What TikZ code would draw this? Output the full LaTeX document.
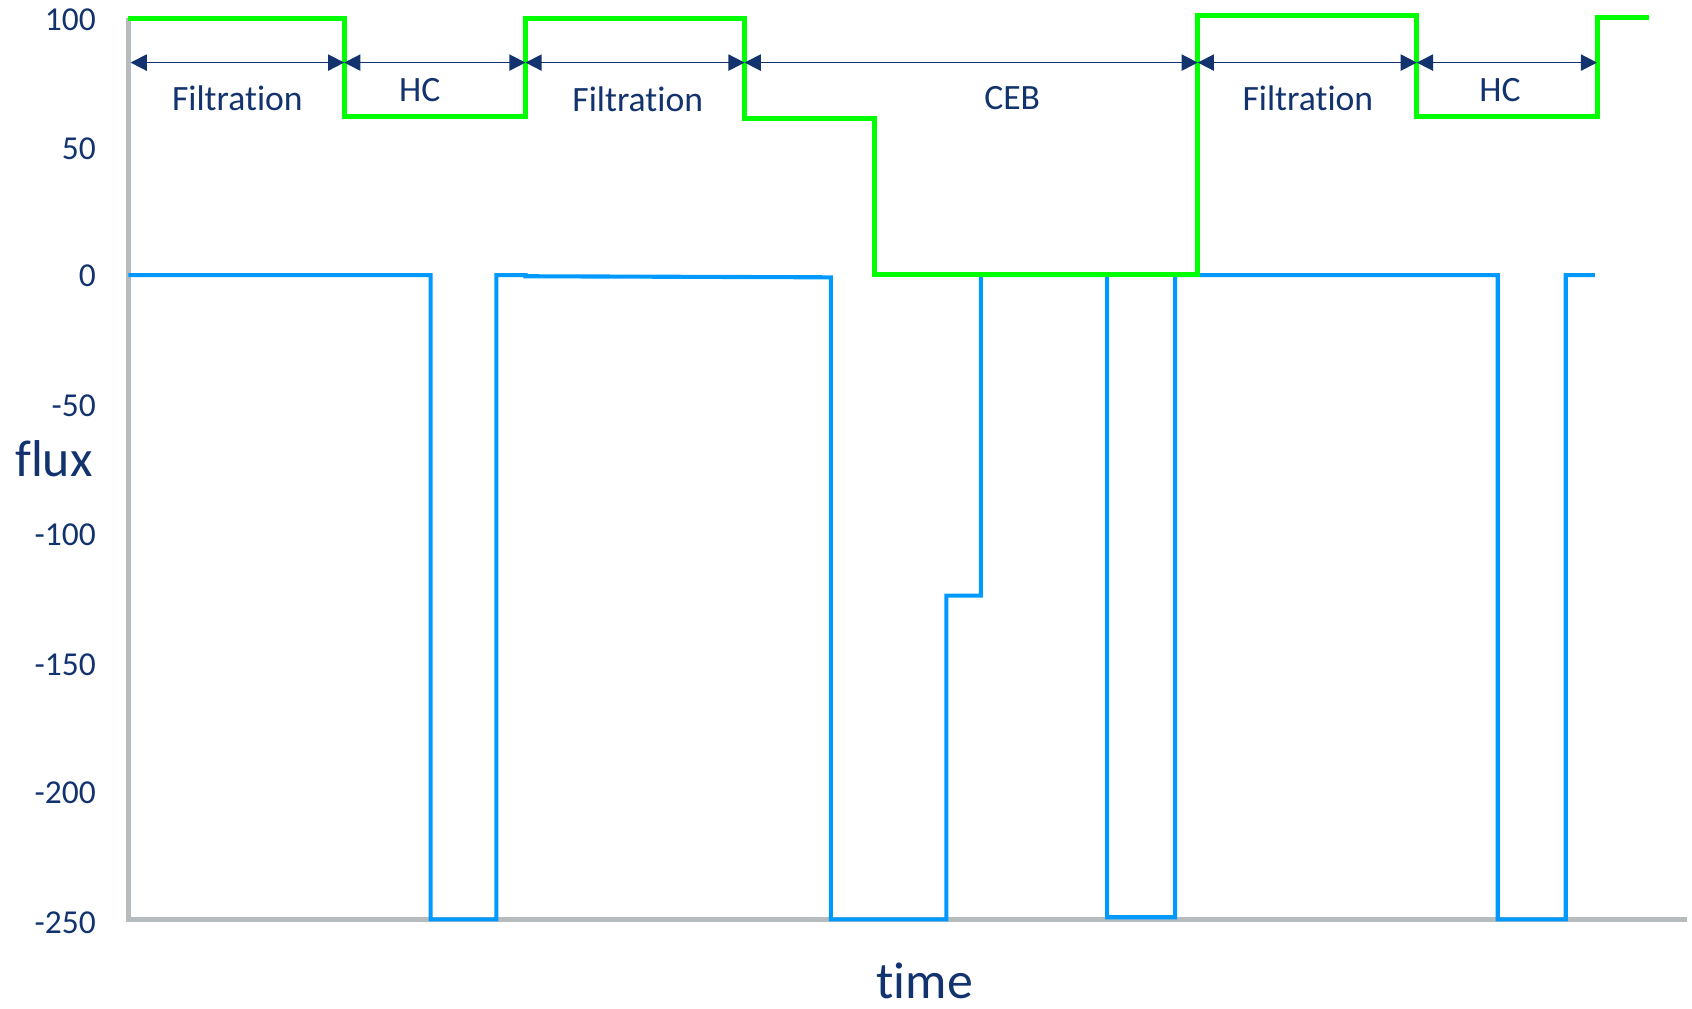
\documentclass[tikz,border=0pt]{standalone}
\usepackage{fontspec}
\setmainfont{Carlito}[Ligatures=NoCommon,RawFeature={-liga;-clig;-dlig}]
\usetikzlibrary{arrows.meta}
\definecolor{navytext}{HTML}{12336E}
\definecolor{stepgreen}{HTML}{00FF00}
\definecolor{fluxblue}{HTML}{0099FF}
\definecolor{axisgray}{HTML}{B6BBBE}
\newcommand{\filtword}{Filtrat\kern0pt ion}
\begin{document}
\begin{tikzpicture}[x=1pt,y=-1pt,
  axisline/.style={draw=axisgray, line width=4pt, line join=miter},
  bluetrace/.style={draw=fluxblue, line width=3.8pt, line join=miter},
  greentrace/.style={draw=stepgreen, line width=4.6pt, line join=miter},
  phase/.style={draw=navytext, line width=1.6pt, {Triangle[length=15pt,width=15pt]}-{Triangle[length=15pt,width=15pt]}},
  phaselbl/.style={text=navytext, inner sep=0pt, font=\fontsize{33}{40}\selectfont},
  ticklbl/.style={text=navytext, inner sep=0pt, anchor=east, font=\fontsize{31}{38}\selectfont},
  axislbl/.style={text=navytext, inner sep=0pt, font=\fontsize{48}{56}\selectfont}]
\useasboundingbox (0,0) rectangle (1568,935);
% axes
\draw[axisline] (119,17) -- (119,852) -- (1563,852);
% tick labels
\node[ticklbl] (t100) at (89,18) {100};
\node[ticklbl] (t50) at (89,138) {50};
\node[ticklbl] (t0) at (89,256) {0};
\node[ticklbl] (tm50) at (89,376) {-50};
\node[ticklbl] (tm100) at (89,496) {-100};
\node[ticklbl] (tm150) at (89,616) {-150};
\node[ticklbl] (tm200) at (89,735) {-200};
\node[ticklbl] (tm250) at (89,855) {-250};
\node[axislbl] (flux) at (50,425) {flux};
\node[axislbl] (time) at (857,909) {time};
% blue flux trace
\draw[bluetrace] (119,255) -- (399,255) -- (399,852) -- (460,852) -- (460,255) -- (487,255) -- (487,256) -- (770,257)
  -- (770,852) -- (877,852) -- (877,552) -- (909,552) -- (909,255) -- (1026,255) -- (1026,850) -- (1089,850)
  -- (1089,255) -- (1388,255) -- (1388,852) -- (1451,852) -- (1451,255) -- (1478,255);
% green step trace
\draw[greentrace] (119,17) -- (319,17) -- (319,108) -- (487,108) -- (487,17) -- (690,17) -- (690,110) -- (810,110)
  -- (810,254) -- (1110,254) -- (1110,14) -- (1313,14) -- (1313,108) -- (1480,108) -- (1480,16) -- (1528,16);
% phase arrows
\coordinate (p0) at (121,58);
\coordinate (p1) at (319,58);
\coordinate (p2) at (487,58);
\coordinate (p3) at (690,58);
\coordinate (p4) at (1110,58);
\coordinate (p5) at (1313,58);
\coordinate (p6) at (1480,58);
\draw[phase] (p0) -- (p1);
\draw[phase] (p1) -- (p2);
\draw[phase] (p2) -- (p3);
\draw[phase] (p3) -- (p4);
\draw[phase] (p4) -- (p5);
\draw[phase] (p5) -- (p6);
\node[phaselbl] (f1) at (220,91) {\filtword};
\node[phaselbl] (hc1) at (389,83) {HC};
\node[phaselbl] (f2) at (591,92) {\filtword};
\node[phaselbl] (ceb) at (938,91) {CEB};
\node[phaselbl] (f3) at (1212,91) {\filtword};
\node[phaselbl] (hc2) at (1390,83) {HC};
\end{tikzpicture}
\end{document}
